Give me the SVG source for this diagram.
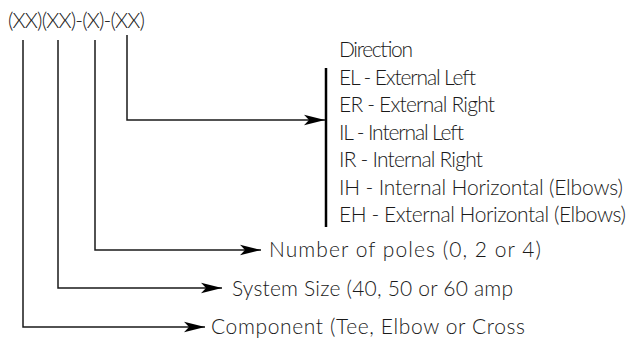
<svg xmlns="http://www.w3.org/2000/svg" width="631" height="341" viewBox="0 0 631 341">
<style>
.t{font-family:Lato,"Liberation Sans",Arial,sans-serif;font-weight:300;font-size:21px;fill:#1a1a1a}
.c{fill:none;stroke:#1a1a1a;stroke-width:1.5}
.bar{stroke:#000;stroke-width:2.5}
</style>
<defs>
<marker id="ah" markerUnits="userSpaceOnUse" markerWidth="22" markerHeight="12" refX="21" refY="6" orient="auto">
<path d="M21,6 L0,0.8 L5,6 L0,11.2 Z" fill="#000"/>
</marker>
</defs>
<rect width="631" height="341" fill="#fff"/>
<g id="code"><text class="t" x="8" y="28" textLength="137">(XX)(XX)-(X)-(XX)</text></g>
<g id="direction">
<line class="bar" x1="326" y1="68" x2="326" y2="227"/>
<text class="t" x="339" y="57" textLength="74">Direction</text>
<text class="t" x="339" y="84.5" textLength="137">EL - External Left</text>
<text class="t" x="339" y="112" textLength="156">ER - External Right</text>
<text class="t" x="339" y="139.5" textLength="125">IL - Internal Left</text>
<text class="t" x="339" y="167" textLength="144">IR - Internal Right</text>
<text class="t" x="339" y="194.5" textLength="284">IH - Internal Horizontal (Elbows)</text>
<text class="t" x="339" y="222" textLength="287">EH - External Horizontal (Elbows)</text>
</g>
<g id="poles"><text class="t" x="269" y="257" textLength="272">Number of poles (0, 2 or 4)</text></g>
<g id="size"><text class="t" x="232" y="296" textLength="281">System Size (40, 50 or 60 amp</text></g>
<g id="component"><text class="t" x="211" y="334" textLength="314">Component (Tee, Elbow or Cross</text></g>
<g id="connectors">
<path class="c" d="M127,35 V120 H325" marker-end="url(#ah)"/>
<path class="c" d="M95,40 V250 H261" marker-end="url(#ah)"/>
<path class="c" d="M58,40 V288 H222" marker-end="url(#ah)"/>
<path class="c" d="M23,40 V327 H205" marker-end="url(#ah)"/>
</g>
</svg>
